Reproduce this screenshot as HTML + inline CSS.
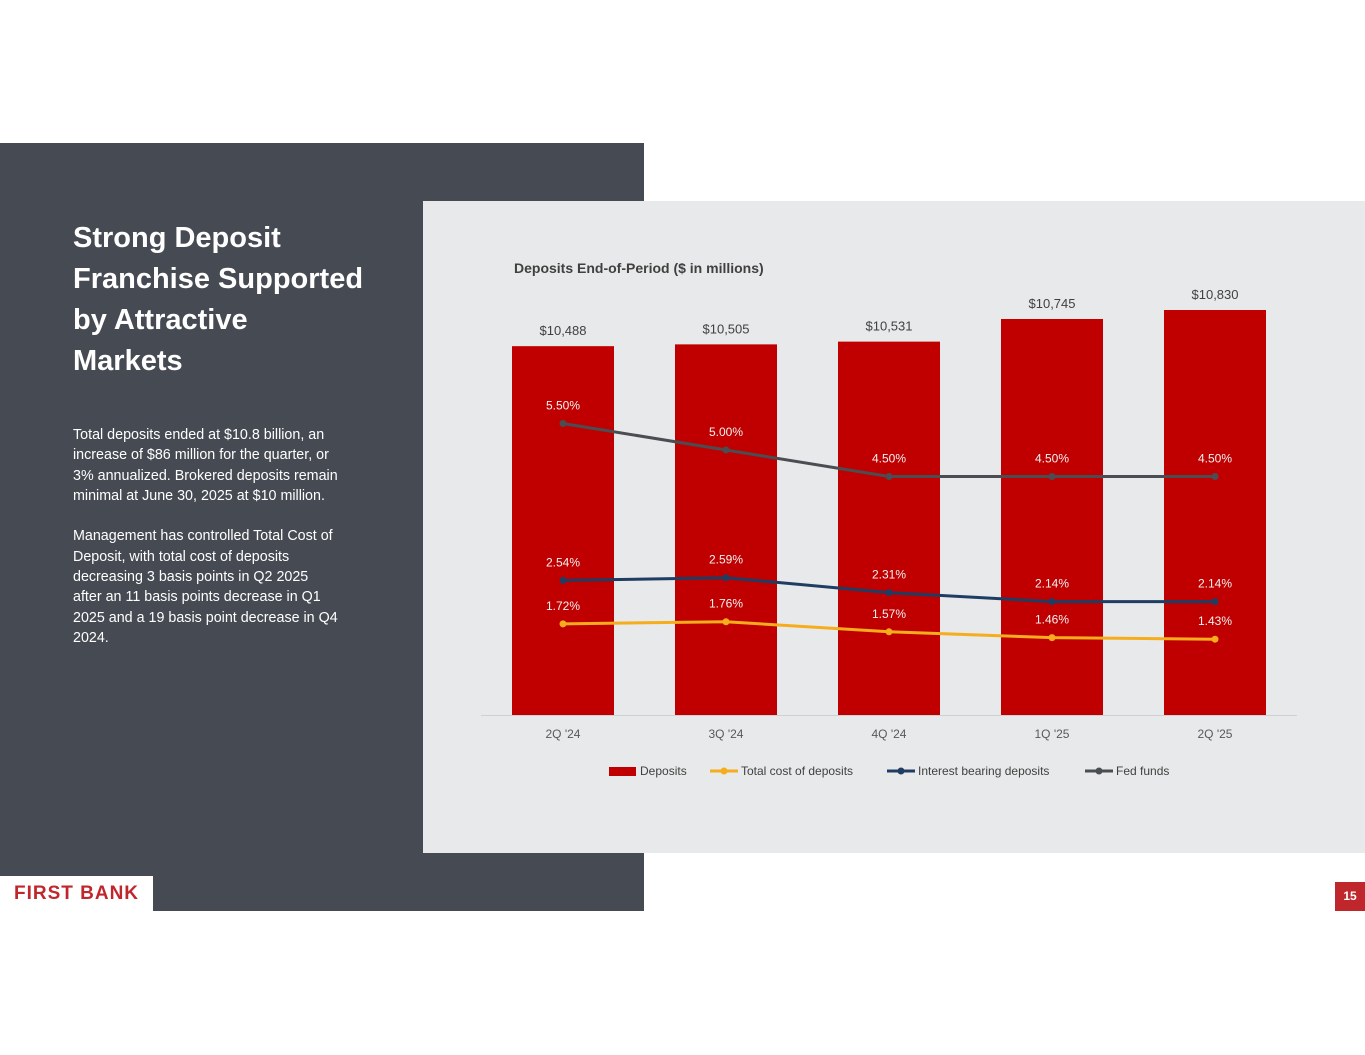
<!DOCTYPE html>
<html><head><meta charset="utf-8"><style>
body{margin:0;width:1365px;height:1055px;background:#fff;position:relative;overflow:hidden;font-family:"Liberation Sans",Calibri,sans-serif}
#left{position:absolute;left:0;top:143px;width:644px;height:768px;background:#464a52}
#title{position:absolute;left:73px;top:218px;color:#fff;font-size:29px;font-weight:bold;line-height:41px;white-space:nowrap}
#body{position:absolute;left:73px;top:425px;color:#fff;font-size:14.3px;line-height:20.3px;white-space:nowrap}
#panel{position:absolute;left:423px;top:201px;width:942px;height:652px;background:#e8e9ea}
#logo{position:absolute;left:0;top:876px;width:153px;height:35px;background:#fff;color:#c0272d;font-weight:bold;font-size:19px;letter-spacing:1px;line-height:35px;text-align:center}
#pg{position:absolute;left:1335px;top:882px;width:30px;height:29px;background:#c0272d;color:#fff;font-weight:bold;font-size:12px;line-height:29px;text-align:center}
svg{position:absolute;left:0;top:0}
</style></head><body>
<div id="left"></div>
<div id="title">Strong Deposit<br>Franchise Supported<br>by Attractive<br>Markets</div>
<div id="body">Total deposits ended at $10.8 billion, an<br>increase of $86 million for the quarter, or<br>3% annualized. Brokered deposits remain<br>minimal at June 30, 2025 at $10 million.<br><br>Management has controlled Total Cost of<br>Deposit, with total cost of deposits<br>decreasing 3 basis points in Q2 2025<br>after an 11 basis points decrease in Q1<br>2025 and a 19 basis point decrease in Q4<br>2024.</div>
<div id="panel"></div>
<div id="logo">FIRST BANK</div>
<div id="pg">15</div>
<svg id="chart" width="1365" height="1055"></svg>
<script>
const categories=["2Q '24","3Q '24","4Q '24","1Q '25","2Q '25"];
const deposits=[10488,10505,10531,10745,10830];
const totalCost=[1.72,1.76,1.57,1.46,1.43];
const interestBearing=[2.54,2.59,2.31,2.14,2.14];
const fedFunds=[5.50,5.00,4.50,4.50,4.50];
const NS="http://www.w3.org/2000/svg";
const svg=document.getElementById('chart');
const base=715;
const xC=i=>563+i*163;
const yBar=v=>base-(v-7000)*(405/3830);
const yPct=v=>base-v*53;
function el(t,a,txt){const e=document.createElementNS(NS,t);for(const k in a)e.setAttribute(k,a[k]);if(txt!==undefined)e.textContent=txt;svg.appendChild(e);return e;}
let t=el('text',{x:514,y:273,'font-size':14,'font-weight':'bold',fill:'#404040'},'Deposits End-of-Period ($ in millions)');


let ax=el('line',{x1:481,x2:1297,y1:base+0.5,y2:base+0.5,stroke:'#d0d0d0'});


deposits.forEach((v,i)=>{
 const r=el('rect',{x:xC(i)-51,y:yBar(v),width:102,height:base-yBar(v),fill:'#c00000'});
 
 
 const l=el('text',{x:xC(i),y:yBar(v)-11,'text-anchor':'middle','font-size':13,fill:'#404040'},'$'+v.toLocaleString('en-US'));
 
 
 const c=el('text',{x:xC(i),y:738,'text-anchor':'middle','font-size':12,fill:'#595959'},categories[i]);
 
 
});
function series(vals,color,name){
 const p=el('polyline',{points:vals.map((v,i)=>xC(i)+','+yPct(v)).join(' '),fill:'none',stroke:color,'stroke-width':3});
 
 
 vals.forEach((v,i)=>{
  const c=el('circle',{cx:xC(i),cy:yPct(v),r:3.5,fill:color});
  
  
  const l=el('text',{x:xC(i),y:yPct(v)-14,'text-anchor':'middle','font-size':12,fill:'#f2f2f2'},v.toFixed(2)+'%');
  
  
 });
}
series(fedFunds,'#4a4d52','fed-funds');
series(interestBearing,'#1f3d63','interest-bearing');
series(totalCost,'#f5ad1d','total-cost');
const legend=[['Deposits','#c00000',609,'bar'],['Total cost of deposits','#f5ad1d',710,'line'],['Interest bearing deposits','#1f3d63',887,'line'],['Fed funds','#4a4d52',1085,'line']];
legend.forEach(([n,c,x,k])=>{
 if(k==='bar'){const r=el('rect',{x:x,y:767,width:27,height:9,fill:c});}
 else{const l=el('line',{x1:x,x2:x+28,y1:771,y2:771,stroke:c,'stroke-width':3});
 const d=el('circle',{cx:x+14,cy:771,r:3.5,fill:c});}
 const tx=el('text',{x:x+31,y:775,'font-size':12,fill:'#404040'},n);
 
 
});
</script>
</body></html>
